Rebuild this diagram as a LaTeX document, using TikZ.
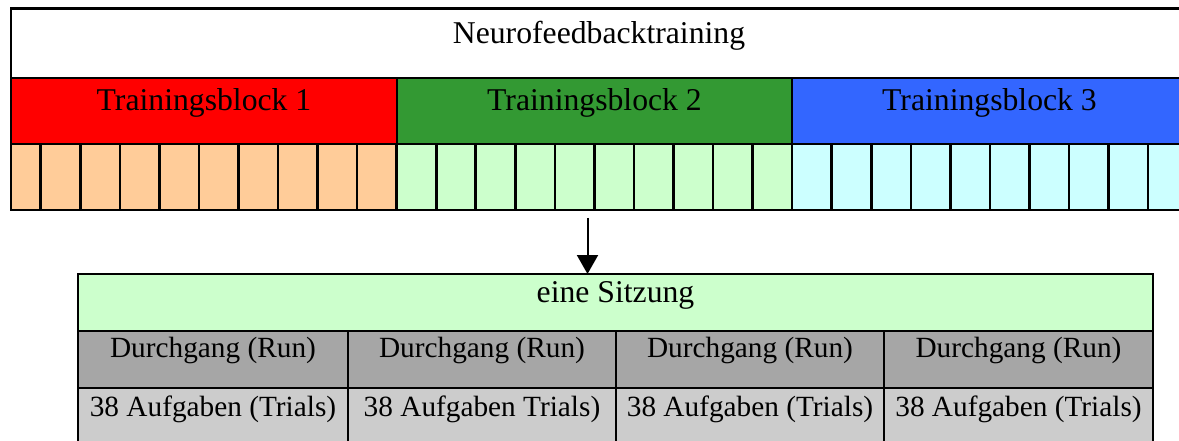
\documentclass[tikz,border=0pt]{standalone}
\usepackage{fontspec}
\setmainfont{Liberation Serif}
\usetikzlibrary{arrows.meta}

\definecolor{blockrot}{HTML}{FF0000}
\definecolor{blockgruen}{HTML}{339933}
\definecolor{blockblau}{HTML}{3366FF}
\definecolor{pfirsich}{HTML}{FFCC99}
\definecolor{hellgruen}{HTML}{CCFFCC}
\definecolor{hellcyan}{HTML}{CCFFFF}
\definecolor{laufgrau}{HTML}{A6A6A6}
\definecolor{trialgrau}{HTML}{CCCCCC}

\begin{document}
\begin{tikzpicture}[x=1pt,y=-1pt,
    feld/.style={draw,line width=2.6pt,inner sep=0pt,outer sep=0pt,
      text height=15pt,text depth=15pt},
    titel/.style={feld,font=\fontsize{31.7}{36}\selectfont},
    block/.style={titel,minimum width=395pt,minimum height=66pt},
    tag/.style={feld,minimum width=395pt,minimum height=66pt},
    zelle/.style={feld,line width=2.2pt,minimum height=57pt,
      font=\fontsize{29.3}{34}\selectfont},
    lauf/.style={zelle,fill=laufgrau,text height=13pt,text depth=17pt},
    pfeilstil/.style={line width=2pt,-{Triangle[width=21pt,length=19pt]}}]
  \clip (0,0) rectangle (1179,441);
  \begin{scope}
    \node[titel,minimum width=1176pt,minimum height=70.5pt] (nft) at (599,43.5) {Neurofeedbacktraining};

    \node[block,fill=blockrot,minimum width=386pt] (b1) at (204,111) {Trainingsblock 1};
    \node[block,fill=blockgruen] (b2) at (594.5,111) {Trainingsblock 2};
    \node[block,fill=blockblau] (b3) at (989.5,111) {Trainingsblock 3};

    \node[tag,fill=pfirsich,minimum width=386pt] (t1) at (204,177) {};
    \node[tag,fill=hellgruen] (t2) at (594.5,177) {};
    \node[tag,fill=hellcyan] (t3) at (989.5,177) {};
    \foreach \i in {0,...,28}
      \draw[line width=2.6pt] (40.7+39.55*\i,144) -- (40.7+39.55*\i,210);

    \node[zelle,fill=hellgruen,minimum width=1075pt,font=\fontsize{31.7}{36}\selectfont] (sitzung) at (615.5,302.5) {eine Sitzung};

    \node[lauf,minimum width=270pt] (run1) at (213,359.5) {Durchgang (Run)};
    \node[lauf,minimum width=268pt] (run2) at (482,359.5) {Durchgang (Run)};
    \node[lauf,minimum width=268pt] (run3) at (750,359.5) {Durchgang (Run)};
    \node[lauf,minimum width=269pt] (run4) at (1018.5,359.5) {Durchgang (Run)};

    \node[zelle,fill=trialgrau,minimum width=270pt] (trial1) at (213,416.5) {38 Aufgaben (Trials)};
    \node[zelle,fill=trialgrau,minimum width=268pt] (trial2) at (482,416.5) {38 Aufgaben Trials)};
    \node[zelle,fill=trialgrau,minimum width=268pt] (trial3) at (750,416.5) {38 Aufgaben (Trials)};
    \node[zelle,fill=trialgrau,minimum width=269pt] (trial4) at (1018.5,416.5) {38 Aufgaben (Trials)};

    \coordinate (pfeil) at (587.5,218);
    \draw[pfeilstil] (pfeil) -- (pfeil |- sitzung.north);
  \end{scope}
\end{tikzpicture}
\end{document}
